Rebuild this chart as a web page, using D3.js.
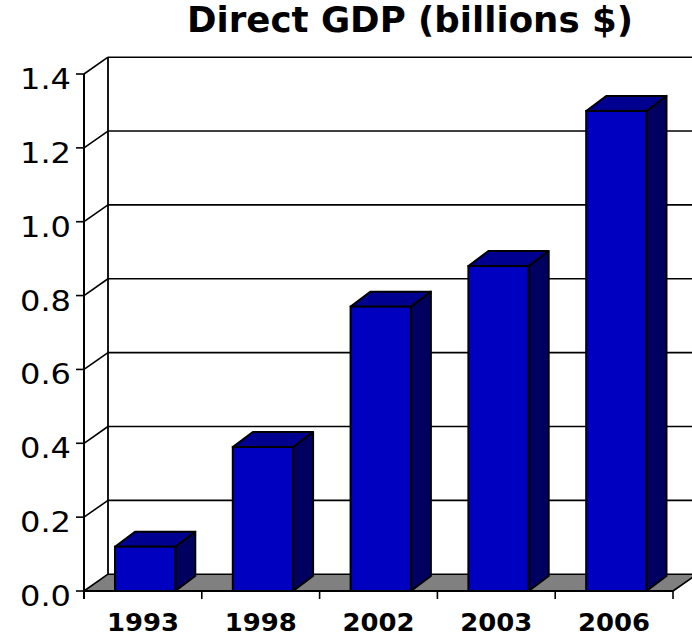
<!DOCTYPE html>
<html>
<head>
<meta charset="utf-8">
<script src="https://cdn.jsdelivr.net/npm/d3@7"></script>
<style>
  html, body { margin: 0; padding: 0; background: #fff; }
  svg { display: block; }
</style>
</head>
<body>
<svg id="chart" width="692" height="636"></svg>
<script>
const title = "Direct GDP (billions $)";
const categories = ["1993", "1998", "2002", "2003", "2006"];
const values = [0.12, 0.39, 0.77, 0.88, 1.30];
const yTicks = [0, 0.2, 0.4, 0.6, 0.8, 1.0, 1.2, 1.4];
const yTickLabels = ["0.0", "0.2", "0.4", "0.6", "0.8", "1.0", "1.2", "1.4"];

const svg = d3.select("#chart");

// Geometry
const x0 = 84, x1 = 673;
const yBase = 591, yTop = 74;
const wdx = 24, wdy = -16.8;   // wall depth offset
const bdx = 20, bdy = -15;     // bar depth offset

const x = d3.scaleBand().domain(categories).range([x0, x1]).paddingInner(0).paddingOuter(0);
const y = d3.scaleLinear().domain([0, 1.4]).range([yBase, yTop]);

const barOff = 0.263 * x.bandwidth();
const barW = 0.512 * x.bandwidth();

const g = svg.append("g");

// Back wall gridlines
g.selectAll(".bgrid").data(yTicks.filter(d => d > 0)).join("line")
  .attr("x1", x0 + wdx).attr("x2", 700)
  .attr("y1", d => y(d) + wdy).attr("y2", d => y(d) + wdy)
  .attr("stroke", "#000").attr("stroke-width", 1.6);

// Side wall gridlines
g.selectAll(".sgrid").data(yTicks.filter(d => d > 0)).join("line")
  .attr("x1", x0).attr("x2", x0 + wdx)
  .attr("y1", d => y(d)).attr("y2", d => y(d) + wdy)
  .attr("stroke", "#000").attr("stroke-width", 1.6);

// Back wall left edge
g.append("line")
  .attr("x1", x0 + wdx).attr("x2", x0 + wdx)
  .attr("y1", y(1.4) + wdy).attr("y2", y(0) + wdy)
  .attr("stroke", "#000").attr("stroke-width", 1.8);

// Floor
g.append("polygon")
  .attr("points", [[x0, y(0)], [x1, y(0)], [x1 + wdx, y(0) + wdy], [x0 + wdx, y(0) + wdy]].map(p => p.join(",")).join(" "))
  .attr("fill", "#808080").attr("stroke", "#000").attr("stroke-width", 1.6).attr("stroke-linejoin", "round");

// Bars
const bars = g.selectAll(".bar").data(categories.map((c, i) => ({c, v: values[i]}))).join("g");
bars.each(function(d) {
  const gx = d3.select(this);
  const bx0 = x(d.c) + barOff, bx1 = bx0 + barW;
  const yt = y(d.v), yb = y(0);
  gx.append("polygon")
    .attr("points", [[bx1, yt], [bx1 + bdx, yt + bdy], [bx1 + bdx, yb + bdy], [bx1, yb]].map(p => p.join(",")).join(" "))
    .attr("fill", "#000060").attr("stroke", "#000").attr("stroke-width", 2).attr("stroke-linejoin", "round");
  gx.append("polygon")
    .attr("points", [[bx0, yt], [bx1, yt], [bx1 + bdx, yt + bdy], [bx0 + bdx, yt + bdy]].map(p => p.join(",")).join(" "))
    .attr("fill", "#000090").attr("stroke", "#000").attr("stroke-width", 2).attr("stroke-linejoin", "round");
  gx.append("rect")
    .attr("x", bx0).attr("y", yt).attr("width", barW).attr("height", yb - yt)
    .attr("fill", "#0000C0").attr("stroke", "#000").attr("stroke-width", 2);
});

// Y axis line
g.append("line")
  .attr("x1", x0).attr("x2", x0).attr("y1", y(1.4)).attr("y2", y(0) + 8)
  .attr("stroke", "#000").attr("stroke-width", 2);
g.selectAll(".ytick").data(yTicks).join("line")
  .attr("x1", x0 - 8).attr("x2", x0)
  .attr("y1", d => y(d)).attr("y2", d => y(d))
  .attr("stroke", "#000").attr("stroke-width", 1.6);
g.selectAll(".ylab").data(yTicks).join("text")
  .attr("x", 71).attr("y", d => y(d) + 15)
  .attr("text-anchor", "end")
  .attr("font-family", "DejaVu Sans, Verdana, sans-serif")
  .attr("font-size", 28)
  .attr("textLength", 51).attr("lengthAdjust", "spacingAndGlyphs")
  .attr("fill", "#000")
  .text((d, i) => yTickLabels[i]);

// X axis front line & ticks
g.append("line")
  .attr("x1", x0).attr("x2", x1).attr("y1", y(0)).attr("y2", y(0))
  .attr("stroke", "#000").attr("stroke-width", 2);
const xTickPos = categories.map(c => x(c)).concat([x1]);
g.selectAll(".xtick").data(xTickPos).join("line")
  .attr("x1", d => d).attr("x2", d => d)
  .attr("y1", y(0)).attr("y2", y(0) + 8)
  .attr("stroke", "#000").attr("stroke-width", 1.6);
g.selectAll(".xlab").data(categories).join("text")
  .attr("x", d => x(d) + x.bandwidth() / 2)
  .attr("y", 630.5)
  .attr("text-anchor", "middle")
  .attr("font-family", "DejaVu Sans, Verdana, sans-serif")
  .attr("font-weight", "bold")
  .attr("font-size", 24)
  .attr("textLength", 72).attr("lengthAdjust", "spacingAndGlyphs")
  .attr("fill", "#000")
  .text(d => d);

// Title
svg.append("text")
  .attr("x", 410).attr("y", 32)
  .attr("text-anchor", "middle")
  .attr("font-family", "DejaVu Sans, Verdana, sans-serif")
  .attr("font-weight", "bold")
  .attr("font-size", 35)
  .attr("textLength", 446).attr("lengthAdjust", "spacingAndGlyphs")
  .attr("fill", "#000")
  .text(title);
</script>
</body>
</html>
